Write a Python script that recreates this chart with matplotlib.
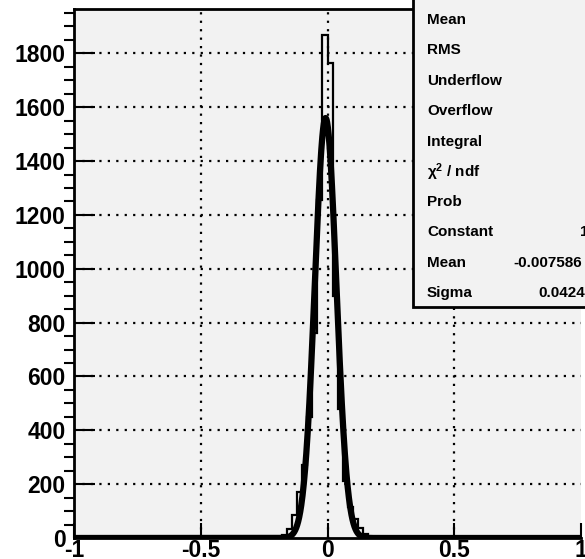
import numpy as np
import matplotlib
matplotlib.use("Agg")
import matplotlib.pyplot as plt
from matplotlib.patches import Rectangle

# ---- data ----
bin_lo, bin_hi, n_bins = -1.0, 1.0, 100
# non-zero bins: left edge -> count (bin width 0.02)
nz_left_edges = [-0.20, -0.18, -0.16, -0.14, -0.12, -0.10, -0.08, -0.06, -0.04, -0.02,
                 0.00, 0.02, 0.04, 0.06, 0.08, 0.10, 0.12, 0.14, 0.16]
nz_counts = [3, 10, 35, 85, 170, 270, 450, 761, 1255, 1870,
             1765, 900, 480, 210, 115, 70, 38, 15, 5]
fit_constant = 1560.0
fit_mean = -0.007586
fit_sigma = 0.04247

x_ticks = [-1, -0.5, 0, 0.5, 1]
x_ticklabels = ["-1", "-0.5", "0", "0.5", "1"]
y_ticks = [0, 200, 400, 600, 800, 1000, 1200, 1400, 1600, 1800]

stat_names = ["Mean", "RMS", "Underflow", "Overflow", "Integral",
              r"$\mathbf{\chi^2}$ / ndf", "Prob", "Constant", "Mean", "Sigma"]
stat_values = {7: "1.56e+03", 8: "-0.007586", 9: "0.04247"}

# ---- build histogram ----
edges = np.linspace(bin_lo, bin_hi, n_bins + 1)
counts = np.zeros(n_bins)
for e, c in zip(nz_left_edges, nz_counts):
    idx = int(round((e - bin_lo) / (edges[1] - edges[0])))
    counts[idx] = c

W, H = 585, 559
fig = plt.figure(figsize=(W / 100, H / 100), dpi=100)
fig.patch.set_facecolor("white")
plt.rcParams["font.family"] = ["Liberation Sans", "DejaVu Sans"]
plt.rcParams["mathtext.fontset"] = "custom"
plt.rcParams["mathtext.bf"] = "Liberation Sans:bold"
plt.rcParams["mathtext.rm"] = "Liberation Sans"

L, R, B, T = 74, 581, 538, 9
ax = fig.add_axes([L / W, (H - B) / H, (R - L) / W, (B - T) / H])
ax.set_facecolor("#f2f2f2")
ax.set_xlim(bin_lo, bin_hi)
ax.set_ylim(0, 1965)

grid_style = dict(color="black", lw=1.6, linestyle=(0, (1, 2.8)), dash_capstyle="butt", zorder=1)
for xt in x_ticks[1:-1]:
    ax.axvline(xt, **grid_style)
for yt in y_ticks[1:]:
    ax.axhline(yt, **grid_style)

ax.stairs(counts, edges, color="black", lw=1.6, zorder=3)
xf = np.linspace(bin_lo, bin_hi, 2000)
yf = fit_constant * np.exp(-0.5 * ((xf - fit_mean) / fit_sigma) ** 2)
ax.plot(xf, yf, color="black", lw=4.5, zorder=4, solid_joinstyle="round")

ax.set_xticks(x_ticks)
ax.set_xticklabels(x_ticklabels)
ax.set_yticks(y_ticks)
ax.set_yticks(np.arange(0, 1951, 50), minor=True)
ax.tick_params(axis="both", direction="in", labelsize=16.5, width=1.5, colors="black")
ax.tick_params(axis="x", length=11, pad=1, top=False)
ax.tick_params(axis="y", which="major", length=15, pad=6, right=False)
ax.tick_params(axis="y", which="minor", length=7, width=1.5, right=False)
for lab in ax.get_xticklabels() + ax.get_yticklabels():
    lab.set_fontweight("bold")
for s in ax.spines.values():
    s.set_linewidth(2)
ax.spines["right"].set_visible(False)

# ---- stats box ----
def fx(px):
    return px / W

def fy(py):
    return (H - py) / H

bx0, by0, bx1, by1 = 413, -5, 640, 307
fig.patches.append(Rectangle((fx(bx0), fy(by1)), fx(bx1) - fx(bx0), fy(by0) - fy(by1),
                             transform=fig.transFigure, facecolor="#f2f2f2",
                             edgecolor="black", lw=2, zorder=10))
row_y = [20, 50, 81, 111, 142, 172, 202, 232, 263, 293]
for i, (name, yy) in enumerate(zip(stat_names, row_y)):
    fig.text(fx(427), fy(yy), name, fontsize=11, fontweight="bold",
             ha="left", va="center", zorder=11)
value_x = {7: 580, 8: 513, 9: 538}
for i, val in stat_values.items():
    fig.text(fx(value_x[i]), fy(row_y[i]), val, fontsize=11, fontweight="bold",
             ha="left", va="center", zorder=11)

fig.savefig("out.png", dpi=100)
